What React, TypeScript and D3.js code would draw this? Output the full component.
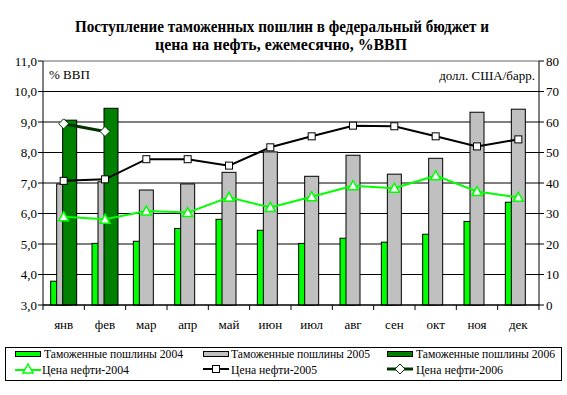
import React from 'react';
import * as d3 from 'd3';

const months = ['янв', 'фев', 'мар', 'апр', 'май', 'июн', 'июл', 'авг', 'сен', 'окт', 'ноя', 'дек'];
const duties2004 = [3.78, 5.02, 5.09, 5.51, 5.81, 5.45, 5.02, 5.19, 5.06, 5.32, 5.74, 6.37];
const duties2005 = [6.97, 7.04, 6.77, 6.97, 7.35, 8.02, 7.22, 7.91, 7.29, 7.81, 9.32, 9.42];
const duties2006 = [9.06, 9.45];
const oil2004 = [28.9, 28.1, 30.8, 30.3, 35.3, 32.0, 35.5, 39.1, 38.3, 42.4, 37.2, 35.3];
const oil2005 = [40.7, 41.2, 47.8, 47.8, 45.7, 51.7, 55.3, 58.8, 58.6, 55.3, 52.0, 54.3];
const oil2006 = [59.4, 56.9];
const leftTicks = [3, 4, 5, 6, 7, 8, 9, 10, 11];
const rightTicks = [0, 10, 20, 30, 40, 50, 60, 70, 80];

const W = 567;
const H = 395;
const m = { left: 43, right: 539, top: 61, bottom: 305 };
const tf = { fontFamily: "'Liberation Serif'" };

const App: React.FC = () => {
  const x = d3.scaleBand<string>().domain(months).range([m.left, m.right]);
  const yL = d3.scaleLinear().domain([3, 11]).range([m.bottom, m.top]);
  const yR = d3.scaleLinear().domain([0, 80]).range([m.bottom, m.top]);
  const bw = 14;
  const step = 6;
  const groupW = bw + step * 2;
  const barX = (mo: string, i: number) => (x(mo) || 0) + (x.bandwidth() - groupW) / 2 + i * step;
  const cx = (i: number) => (x(months[i]) || 0) + x.bandwidth() / 2;

  const line = (vals: number[]) =>
    d3.line<number>().x((_, i) => cx(i)).y(d => yR(d))(vals) || '';

  const barSeries = [
    { vals: duties2004, fill: '#00ff00' },
    { vals: duties2005, fill: '#c0c0c0' },
    { vals: duties2006, fill: '#008000' },
  ];

  const tri = (px: number, py: number) =>
    `M${px},${py - 5}L${px + 5},${py + 4}L${px - 5},${py + 4}Z`;
  const dia = (px: number, py: number) =>
    `M${px},${py - 5}L${px + 5},${py}L${px},${py + 5}L${px - 5},${py}Z`;

  const legendBars = [
    { x: 15, fill: '#00ff00', label: 'Таможенные пошлины 2004', tx: 44 },
    { x: 203, fill: '#c0c0c0', label: 'Таможенные пошлины 2005', tx: 231 },
    { x: 387, fill: '#008000', label: 'Таможенные пошлины 2006', tx: 416 },
  ];

  return (
    <svg width={W} height={H} style={{ position: 'absolute', left: 0, top: 0, background: '#fff' }}>
      <rect x={0} y={0} width={W} height={H} fill="#fff" />
      <text x={282} y={32} textAnchor="middle" fontSize={16} fontWeight="bold" style={tf}
        textLength={414} lengthAdjust="spacingAndGlyphs">
        Поступление таможенных пошлин в федеральный бюджет и
      </text>
      <text x={281} y={50} textAnchor="middle" fontSize={16} fontWeight="bold" style={tf}
        textLength={252} lengthAdjust="spacingAndGlyphs">
        цена на нефть, ежемесячно, %ВВП
      </text>

      {/* gridlines */}
      {leftTicks.map(t => (
        <line key={'g' + t} x1={m.left} x2={m.right} y1={yL(t)} y2={yL(t)} stroke={t === 11 ? '#606060' : '#000'} strokeWidth={1} />
      ))}

      {/* bars */}
      {barSeries.map((s, si) =>
        s.vals.map((v, i) => (
          <rect key={`b${si}-${i}`} x={barX(months[i], si)} y={yL(v)} width={bw} height={yL(3) - yL(v)}
            fill={s.fill} stroke="#000" strokeWidth={1} />
        ))
      )}

      {/* lines */}
      <path d={line(oil2004)} fill="none" stroke="#00ff00" strokeWidth={2} />
      <path d={line(oil2005)} fill="none" stroke="#000" strokeWidth={2} />
      <path d={line(oil2006)} fill="none" stroke="#003300" strokeWidth={3} />
      {oil2004.map((v, i) => (
        <path key={'t' + i} d={tri(cx(i), yR(v))} fill="#fff" stroke="#00ff00" strokeWidth={1.5} />
      ))}
      {oil2005.map((v, i) => (
        <rect key={'s' + i} x={cx(i) - 3.5} y={yR(v) - 3.5} width={7} height={7} fill="#fff" stroke="#000" strokeWidth={1} />
      ))}
      {oil2006.map((v, i) => (
        <path key={'d' + i} d={dia(cx(i), yR(v))} fill="#fff" stroke="#003300" strokeWidth={1} />
      ))}

      {/* axes */}
      <line x1={m.left} x2={m.left} y1={m.top} y2={m.bottom} stroke="#000" />
      <line x1={m.right} x2={m.right} y1={m.top} y2={m.bottom} stroke="#000" />
      <line x1={m.left} x2={m.right} y1={m.bottom} y2={m.bottom} stroke="#000" />
      {leftTicks.map(t => (
        <g key={'l' + t}>
          <line x1={m.left - 5} x2={m.left} y1={yL(t)} y2={yL(t)} stroke="#000" />
          <text x={37} y={yL(t)} dy="0.35em" textAnchor="end" fontSize={13} style={tf}>
            {t.toFixed(1).replace('.', ',')}
          </text>
        </g>
      ))}
      {rightTicks.map(t => (
        <g key={'r' + t}>
          <line x1={m.right} x2={m.right + 5} y1={yR(t)} y2={yR(t)} stroke="#000" />
          <text x={546} y={yR(t)} dy="0.35em" textAnchor="start" fontSize={13} style={tf}>
            {t}
          </text>
        </g>
      ))}
      {months.map((mo, i) => (
        <g key={'c' + mo}>
          <line x1={x(mo)} x2={x(mo)} y1={m.bottom} y2={m.bottom + 5} stroke="#000" />
          <text x={cx(i)} y={329} textAnchor="middle" fontSize={13} style={tf}>{mo}</text>
        </g>
      ))}
      <line x1={m.right} x2={m.right} y1={m.bottom} y2={m.bottom + 5} stroke="#000" />

      <text x={49} y={79} fontSize={13} style={tf}>% ВВП</text>
      <text x={535} y={80} textAnchor="end" fontSize={13} style={tf}>долл. США/барр.</text>

      {/* legend */}
      <rect x={5.5} y={347.5} width={556} height={33} fill="#fff" stroke="#000" />
      {legendBars.map(l => (
        <g key={l.label}>
          <rect x={l.x + 0.5} y={351.5} width={25} height={5} fill={l.fill} stroke="#000" />
          <text x={l.tx} y={358} fontSize={12.5} style={tf} textLength={139} lengthAdjust="spacingAndGlyphs">{l.label}</text>
        </g>
      ))}
      <g>
        <line x1={15} x2={41} y1={370} y2={370} stroke="#00ff00" strokeWidth={2} />
        <path d={tri(28, 369)} fill="#fff" stroke="#00ff00" strokeWidth={1.5} />
        <text x={42} y={374} fontSize={12.5} style={tf} textLength={87} lengthAdjust="spacingAndGlyphs">Цена нефти-2004</text>
        <line x1={203} x2={229} y1={369} y2={369} stroke="#000" strokeWidth={2} />
        <rect x={212.5} y={365.5} width={7} height={7} fill="#fff" stroke="#000" />
        <text x={231} y={374} fontSize={12.5} style={tf} textLength={86} lengthAdjust="spacingAndGlyphs">Цена нефти-2005</text>
        <line x1={387} x2={413} y1={369} y2={369} stroke="#003300" strokeWidth={3} />
        <path d={dia(400, 369)} fill="#fff" stroke="#003300" />
        <text x={416} y={374} fontSize={12.5} style={tf} textLength={87} lengthAdjust="spacingAndGlyphs">Цена нефти-2006</text>
      </g>
    </svg>
  );
};

export default App;
